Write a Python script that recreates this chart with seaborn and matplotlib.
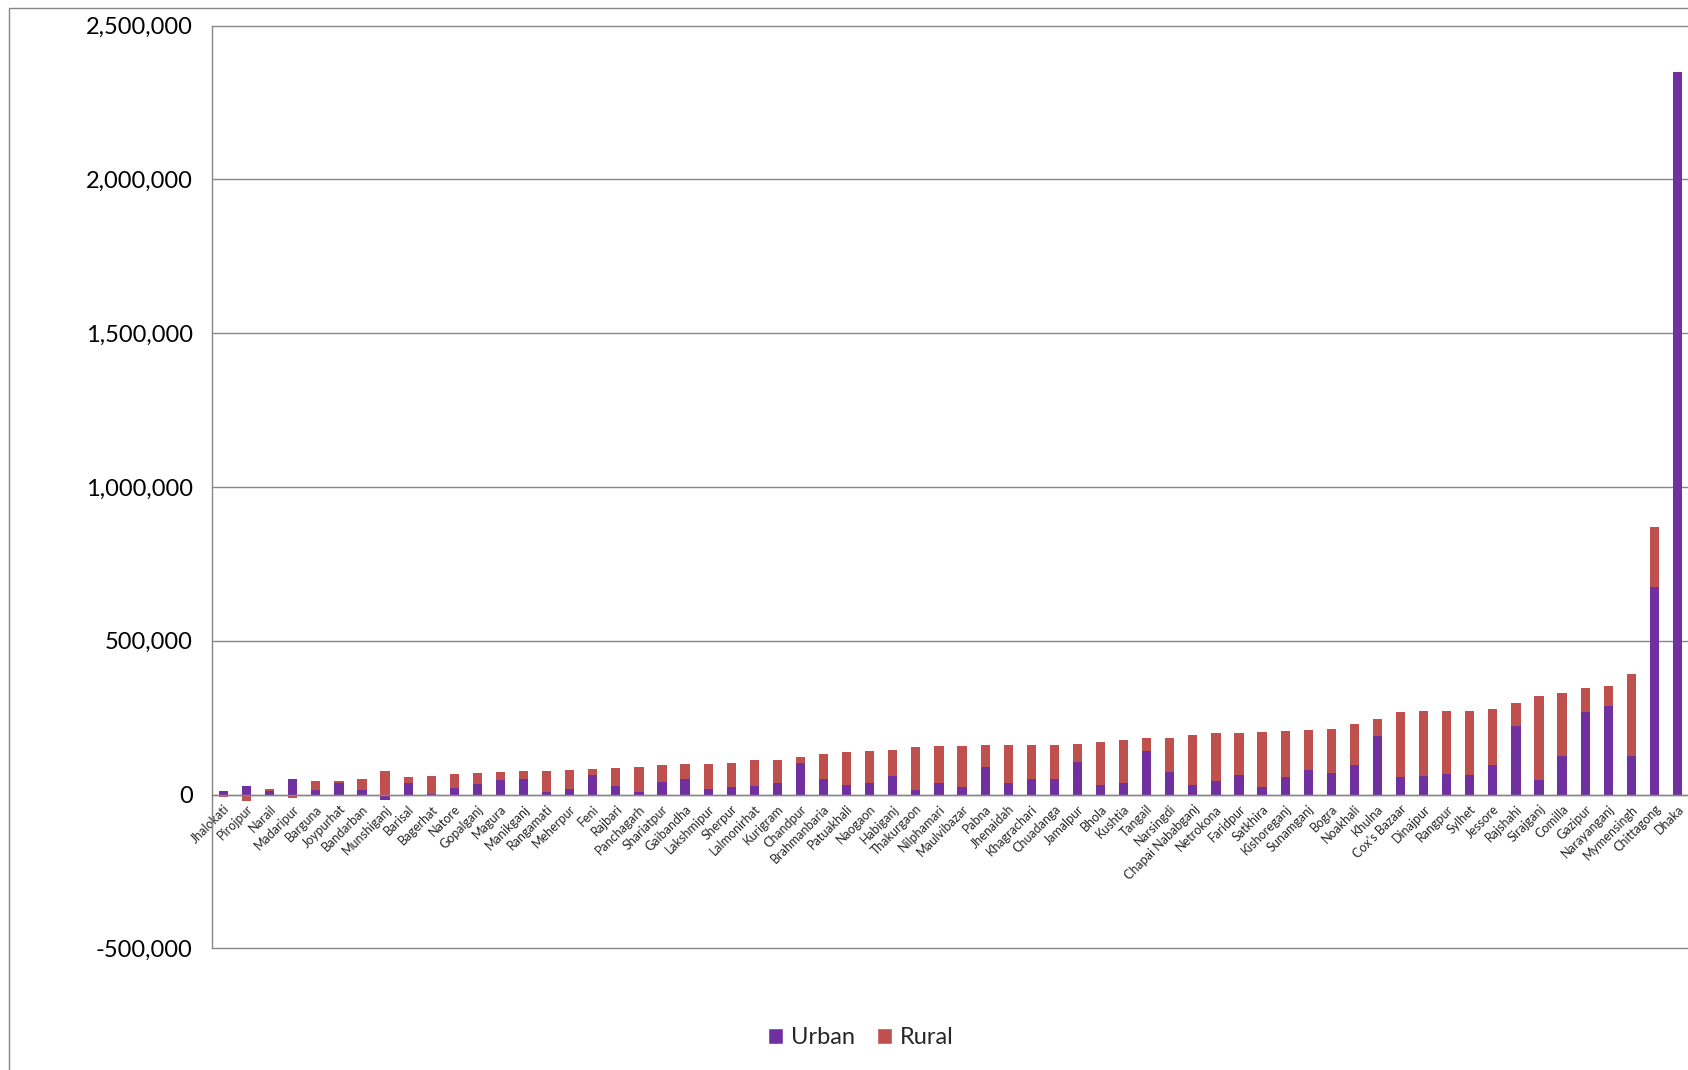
import numpy as np
import pandas as pd
import matplotlib
matplotlib.use("Agg")
import matplotlib.pyplot as plt
from matplotlib.ticker import FuncFormatter, FixedLocator, MultipleLocator
from matplotlib.lines import Line2D
from matplotlib.patches import Patch
import seaborn as sns

# District populations split into urban and rural parts
districts = [
    "Jhalokati", "Pirojpur", "Narail", "Madaripur", "Barguna", "Joypurhat",
    "Bandarban", "Munshiganj", "Barisal", "Bagerhat", "Natore", "Gopalganj",
    "Magura", "Manikganj", "Rangamati", "Meherpur", "Feni", "Rajbari",
    "Panchagarh", "Shariatpur", "Gaibandha", "Lakshmipur", "Sherpur",
    "Lalmonirhat", "Kurigram", "Chandpur", "Brahmanbaria", "Patuakhali",
    "Naogaon", "Habiganj", "Thakurgaon", "Nilphamari", "Maulvibazar", "Pabna",
    "Jhenaidah", "Khagrachari", "Chuadanga", "Jamalpur", "Bhola", "Kushtia",
    "Tangail", "Narsingdi", "Chapai Nababganj", "Netrokona", "Faridpur",
    "Satkhira", "Kishoreganj", "Sunamganj", "Bogra", "Noakhali", "Khulna",
    "Cox's Bazaar", "Dinajpur", "Rangpur", "Sylhet", "Jessore", "Rajshahi",
    "Sirajganj", "Comilla", "Gazipur", "Narayanganj", "Mymensingh",
    "Chittagong", "Dhaka",
]

urban = [
    11000, 29000, 12000, 50000, 16000, 38000, 16000, -17000, 38000, 1000,
    21000, 35000, 48000, 52000, 9000, 18000, 65000, 27000, 9000, 42000,
    49000, 19500, 24000, 29000, 38000, 102000, 49000, 32500, 39000, 61000,
    16000, 36000, 25000, 88000, 39000, 50000, 50000, 107000, 32500, 36000,
    142000, 72500, 32500, 45500, 65000, 26000, 58000, 80000, 70000, 95000,
    190000, 57000, 61000, 68000, 64000, 97000, 223000, 47500, 126500, 268000,
    288000, 126500, 675000, 2350000,
]

rural = [
    -9000, -21000, 5000, -11000, 28000, 6500, 36000, 76000, 18000, 60000,
    46000, 35000, 26000, 25000, 68000, 61000, 17000, 58000, 81000, 54000,
    50000, 79000, 77000, 82000, 74000, 19500, 83000, 106000, 102000, 85000,
    138500, 121000, 133000, 72500, 121000, 110000, 112500, 57000, 138500, 142000,
    41000, 112500, 161000, 154000, 134000, 177500, 148000, 131000, 144000, 133000,
    57000, 212000, 209000, 204500, 209000, 182000, 73500, 271500, 203000, 78000,
    65000, 266000, 195000, 0,
]

series_labels = ["Urban", "Rural"]

urban_color = "#7030A0"
rural_color = "#C0504D"
line_color = "#868686"

sns.set_style("white")
plt.rcParams["font.family"] = ["Lato", "DejaVu Sans"]

df = pd.DataFrame({"District": districts, "Urban": urban, "Rural": rural})

# Positive and negative parts stack separately from the zero line
u = df["Urban"].to_numpy(float)
r = df["Rural"].to_numpy(float)
rural_base = np.where(r >= 0, np.maximum(u, 0), np.minimum(u, 0))

W, H = 1688, 1070
fig = plt.figure(figsize=(W / 100, H / 100), dpi=100)
left, right, top, bottom = 212, 1689, 25.7, 948.3
ax = fig.add_axes([left / W, 1 - bottom / H, (right - left) / W, (bottom - top) / H])

sns.barplot(data=df, x="District", y="Urban", order=districts, color=urban_color,
            width=0.4, errorbar=None, saturation=1, linewidth=0, ax=ax)
sns.barplot(data=df, x="District", y="Rural", order=districts, color=rural_color,
            width=0.4, errorbar=None, saturation=1, linewidth=0, ax=ax,
            bottom=rural_base)

ax.set_xlabel("")
ax.set_ylabel("")
ax.set_ylim(-500000, 2500000)
ax.set_xlim(-0.5, len(districts) - 0.5)

ax.yaxis.set_major_locator(MultipleLocator(500000))
ax.yaxis.set_major_formatter(FuncFormatter(lambda v, p: f"{v:,.0f}"))
ax.grid(axis="y", color=line_color, linewidth=1.0)
ax.grid(axis="x", visible=False)
ax.set_axisbelow(True)

for s in ["top", "right"]:
    ax.spines[s].set_visible(False)
ax.spines["bottom"].set_position(("data", 0))
for s in ["bottom", "left"]:
    ax.spines[s].set_color(line_color)
    ax.spines[s].set_linewidth(1.0)

ax.tick_params(axis="y", length=5, width=1, color=line_color, labelsize=17,
               pad=9, labelcolor="black")
ax.tick_params(axis="x", which="major", length=0, labelsize=9, pad=6)
ax.xaxis.set_minor_locator(FixedLocator(np.arange(-0.5, len(districts), 1)))
ax.tick_params(axis="x", which="minor", length=3, width=1, color=line_color,
               direction="out")
plt.setp(ax.get_xticklabels(), rotation=45, ha="right", rotation_mode="anchor")

# Keep the gridlines at the axis limits fully drawn
for gl in ax.get_ygridlines():
    gl.set_clip_on(False)

handles = [Patch(facecolor=urban_color), Patch(facecolor=rural_color)]
fig.legend(handles, series_labels, loc="center", bbox_to_anchor=(0.51, 0.030),
           ncol=2, frameon=False, fontsize=17, handlelength=0.65,
           handleheight=0.65, handletextpad=0.35, columnspacing=0.9)

# Chart-area frame along the left and top edges
fig.add_artist(Line2D([8.5 / W, 8.5 / W, 1.0], [0, 1 - 7.5 / H, 1 - 7.5 / H],
                      transform=fig.transFigure, color=line_color, linewidth=1.0))

fig.savefig("out.png", dpi=100)
